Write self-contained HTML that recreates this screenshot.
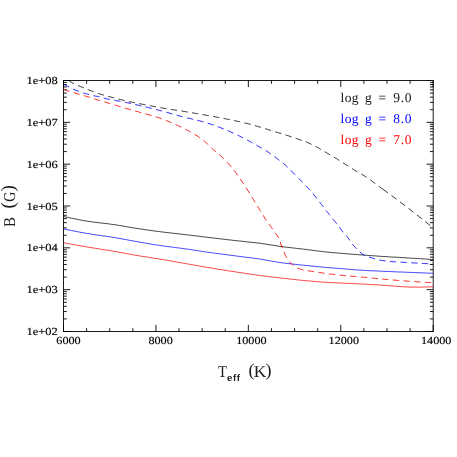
<!DOCTYPE html>
<html><head><meta charset="utf-8"><title>B vs Teff</title>
<style>html,body{margin:0;padding:0;background:#fff;}svg{display:block;will-change:transform;text-rendering:geometricPrecision}</style></head>
<body><svg width="457" height="457" viewBox="0 0 457 457">
<rect width="457" height="457" fill="#fff"/>
<rect x="63.5" y="80.5" width="369.7" height="251.0" fill="none" stroke="#111" stroke-width="0.95"/>
<path d="M63.50 331.5v-6.6M63.50 80.5v6.6M86.61 331.5v-3.3M86.61 80.5v3.3M109.71 331.5v-3.3M109.71 80.5v3.3M132.82 331.5v-3.3M132.82 80.5v3.3M155.93 331.5v-6.6M155.93 80.5v6.6M179.03 331.5v-3.3M179.03 80.5v3.3M202.14 331.5v-3.3M202.14 80.5v3.3M225.24 331.5v-3.3M225.24 80.5v3.3M248.35 331.5v-6.6M248.35 80.5v6.6M271.46 331.5v-3.3M271.46 80.5v3.3M294.56 331.5v-3.3M294.56 80.5v3.3M317.67 331.5v-3.3M317.67 80.5v3.3M340.77 331.5v-6.6M340.77 80.5v6.6M363.88 331.5v-3.3M363.88 80.5v3.3M386.99 331.5v-3.3M386.99 80.5v3.3M410.09 331.5v-3.3M410.09 80.5v3.3M433.20 331.5v-6.6M433.20 80.5v6.6M63.5 331.50h6.6M433.2 331.50h-6.6M63.5 318.91h3.3M433.2 318.91h-3.3M63.5 311.54h3.3M433.2 311.54h-3.3M63.5 306.31h3.3M433.2 306.31h-3.3M63.5 302.26h3.3M433.2 302.26h-3.3M63.5 298.95h3.3M433.2 298.95h-3.3M63.5 296.15h3.3M433.2 296.15h-3.3M63.5 293.72h3.3M433.2 293.72h-3.3M63.5 291.58h3.3M433.2 291.58h-3.3M63.5 289.67h6.6M433.2 289.67h-6.6M63.5 277.07h3.3M433.2 277.07h-3.3M63.5 269.71h3.3M433.2 269.71h-3.3M63.5 264.48h3.3M433.2 264.48h-3.3M63.5 260.43h3.3M433.2 260.43h-3.3M63.5 257.11h3.3M433.2 257.11h-3.3M63.5 254.31h3.3M433.2 254.31h-3.3M63.5 251.89h3.3M433.2 251.89h-3.3M63.5 249.75h3.3M433.2 249.75h-3.3M63.5 247.83h6.6M433.2 247.83h-6.6M63.5 235.24h3.3M433.2 235.24h-3.3M63.5 227.87h3.3M433.2 227.87h-3.3M63.5 222.65h3.3M433.2 222.65h-3.3M63.5 218.59h3.3M433.2 218.59h-3.3M63.5 215.28h3.3M433.2 215.28h-3.3M63.5 212.48h3.3M433.2 212.48h-3.3M63.5 210.05h3.3M433.2 210.05h-3.3M63.5 207.91h3.3M433.2 207.91h-3.3M63.5 206.00h6.6M433.2 206.00h-6.6M63.5 193.41h3.3M433.2 193.41h-3.3M63.5 186.04h3.3M433.2 186.04h-3.3M63.5 180.81h3.3M433.2 180.81h-3.3M63.5 176.76h3.3M433.2 176.76h-3.3M63.5 173.45h3.3M433.2 173.45h-3.3M63.5 170.65h3.3M433.2 170.65h-3.3M63.5 168.22h3.3M433.2 168.22h-3.3M63.5 166.08h3.3M433.2 166.08h-3.3M63.5 164.17h6.6M433.2 164.17h-6.6M63.5 151.57h3.3M433.2 151.57h-3.3M63.5 144.21h3.3M433.2 144.21h-3.3M63.5 138.98h3.3M433.2 138.98h-3.3M63.5 134.93h3.3M433.2 134.93h-3.3M63.5 131.61h3.3M433.2 131.61h-3.3M63.5 128.81h3.3M433.2 128.81h-3.3M63.5 126.39h3.3M433.2 126.39h-3.3M63.5 124.25h3.3M433.2 124.25h-3.3M63.5 122.33h6.6M433.2 122.33h-6.6M63.5 109.74h3.3M433.2 109.74h-3.3M63.5 102.37h3.3M433.2 102.37h-3.3M63.5 97.15h3.3M433.2 97.15h-3.3M63.5 93.09h3.3M433.2 93.09h-3.3M63.5 89.78h3.3M433.2 89.78h-3.3M63.5 86.98h3.3M433.2 86.98h-3.3M63.5 84.55h3.3M433.2 84.55h-3.3M63.5 82.41h3.3M433.2 82.41h-3.3M63.5 80.50h6.6M433.2 80.50h-6.6" stroke="#000" stroke-width="0.9" fill="none"/>
<path d="M63.5 216.4 L65.5 216.9 L67.5 217.3 L69.5 217.8 L71.5 218.2 L73.5 218.6 L75.5 219.0 L77.5 219.4 L79.5 219.8 L81.5 220.2 L83.5 220.6 L85.5 220.9 L87.5 221.2 L89.5 221.5 L91.5 221.8 L93.5 222.1 L95.5 222.3 L97.5 222.6 L99.5 222.8 L101.5 223.0 L103.5 223.3 L105.5 223.5 L107.5 223.7 L109.5 224.0 L111.5 224.3 L113.5 224.5 L115.5 224.8 L117.5 225.1 L119.5 225.5 L121.5 225.8 L123.5 226.1 L125.5 226.5 L127.5 226.9 L129.5 227.2 L131.5 227.6 L133.5 227.9 L135.5 228.2 L137.5 228.5 L139.5 228.8 L141.5 229.1 L143.5 229.4 L145.5 229.7 L147.5 230.0 L149.5 230.3 L151.5 230.6 L153.5 230.8 L155.5 231.1 L157.5 231.4 L159.5 231.6 L161.5 231.9 L163.5 232.1 L165.5 232.4 L167.5 232.6 L169.5 232.8 L171.5 233.1 L173.5 233.3 L175.5 233.5 L177.5 233.7 L179.5 234.0 L181.5 234.2 L183.5 234.4 L185.5 234.7 L187.5 234.9 L189.5 235.1 L191.5 235.4 L193.5 235.6 L195.5 235.9 L197.5 236.1 L199.5 236.3 L201.5 236.6 L203.5 236.8 L205.5 237.1 L207.5 237.3 L209.5 237.6 L211.5 237.8 L213.5 238.0 L215.5 238.3 L217.5 238.5 L219.5 238.7 L221.5 239.0 L223.5 239.2 L225.5 239.4 L227.5 239.7 L229.5 239.9 L231.5 240.1 L233.5 240.4 L235.5 240.6 L237.5 240.8 L239.5 241.0 L241.5 241.2 L243.5 241.4 L245.5 241.7 L247.5 241.9 L249.5 242.1 L251.5 242.3 L253.5 242.5 L255.5 242.7 L257.5 243.0 L259.5 243.2 L261.5 243.5 L263.5 243.8 L265.5 244.1 L267.5 244.4 L269.5 244.7 L271.5 245.0 L273.5 245.3 L275.5 245.7 L277.5 246.0 L279.5 246.3 L281.5 246.5 L283.5 246.8 L285.5 247.1 L287.5 247.3 L289.5 247.5 L291.5 247.8 L293.5 248.0 L295.5 248.2 L297.5 248.5 L299.5 248.7 L301.5 248.9 L303.5 249.2 L305.5 249.4 L307.5 249.7 L309.5 249.9 L311.5 250.2 L313.5 250.4 L315.5 250.7 L317.5 251.0 L319.5 251.2 L321.5 251.4 L323.5 251.7 L325.5 251.9 L327.5 252.1 L329.5 252.3 L331.5 252.5 L333.5 252.6 L335.5 252.8 L337.5 253.0 L339.5 253.2 L341.5 253.3 L343.5 253.5 L345.5 253.7 L347.5 253.8 L349.5 254.0 L351.5 254.2 L353.5 254.3 L355.5 254.5 L357.5 254.6 L359.5 254.8 L361.5 254.9 L363.5 255.1 L365.5 255.2 L367.5 255.4 L369.5 255.5 L371.5 255.7 L373.5 255.8 L375.5 255.9 L377.5 256.1 L379.5 256.2 L381.5 256.4 L383.5 256.5 L385.5 256.6 L387.5 256.7 L389.5 256.9 L391.5 257.0 L393.5 257.1 L395.5 257.2 L397.5 257.3 L399.5 257.4 L401.5 257.6 L403.5 257.7 L405.5 257.8 L407.5 257.9 L409.5 258.0 L411.5 258.2 L413.5 258.3 L415.5 258.4 L417.5 258.5 L419.5 258.7 L421.5 258.8 L423.5 258.9 L425.5 259.0 L427.5 259.2 L429.5 259.3 L431.5 259.4 L433.0 259.5" stroke="#000" stroke-width="0.75" fill="none" stroke-linejoin="round"/>
<path d="M63.5 228.9 L65.5 229.3 L67.5 229.7 L69.5 230.1 L71.5 230.6 L73.5 230.9 L75.5 231.3 L77.5 231.7 L79.5 232.1 L81.5 232.5 L83.5 232.8 L85.5 233.2 L87.5 233.5 L89.5 233.8 L91.5 234.2 L93.5 234.5 L95.5 234.8 L97.5 235.1 L99.5 235.3 L101.5 235.6 L103.5 235.9 L105.5 236.2 L107.5 236.5 L109.5 236.8 L111.5 237.1 L113.5 237.4 L115.5 237.7 L117.5 238.1 L119.5 238.4 L121.5 238.8 L123.5 239.2 L125.5 239.5 L127.5 239.9 L129.5 240.3 L131.5 240.7 L133.5 241.0 L135.5 241.4 L137.5 241.8 L139.5 242.1 L141.5 242.5 L143.5 242.8 L145.5 243.1 L147.5 243.5 L149.5 243.8 L151.5 244.2 L153.5 244.5 L155.5 244.8 L157.5 245.1 L159.5 245.4 L161.5 245.7 L163.5 246.0 L165.5 246.3 L167.5 246.5 L169.5 246.8 L171.5 247.0 L173.5 247.3 L175.5 247.6 L177.5 247.8 L179.5 248.1 L181.5 248.3 L183.5 248.6 L185.5 248.9 L187.5 249.2 L189.5 249.4 L191.5 249.7 L193.5 250.0 L195.5 250.4 L197.5 250.7 L199.5 251.0 L201.5 251.3 L203.5 251.6 L205.5 251.9 L207.5 252.2 L209.5 252.4 L211.5 252.7 L213.5 253.0 L215.5 253.3 L217.5 253.5 L219.5 253.8 L221.5 254.1 L223.5 254.3 L225.5 254.6 L227.5 254.8 L229.5 255.1 L231.5 255.4 L233.5 255.6 L235.5 255.9 L237.5 256.2 L239.5 256.4 L241.5 256.7 L243.5 256.9 L245.5 257.2 L247.5 257.4 L249.5 257.7 L251.5 257.9 L253.5 258.2 L255.5 258.5 L257.5 258.7 L259.5 259.0 L261.5 259.3 L263.5 259.7 L265.5 260.0 L267.5 260.4 L269.5 260.7 L271.5 261.1 L273.5 261.5 L275.5 261.8 L277.5 262.1 L279.5 262.5 L281.5 262.7 L283.5 263.0 L285.5 263.3 L287.5 263.5 L289.5 263.7 L291.5 263.9 L293.5 264.1 L295.5 264.4 L297.5 264.6 L299.5 264.8 L301.5 265.0 L303.5 265.2 L305.5 265.4 L307.5 265.6 L309.5 265.8 L311.5 266.0 L313.5 266.2 L315.5 266.4 L317.5 266.6 L319.5 266.8 L321.5 267.0 L323.5 267.2 L325.5 267.4 L327.5 267.6 L329.5 267.7 L331.5 267.9 L333.5 268.0 L335.5 268.2 L337.5 268.3 L339.5 268.5 L341.5 268.6 L343.5 268.8 L345.5 269.0 L347.5 269.1 L349.5 269.3 L351.5 269.5 L353.5 269.7 L355.5 269.8 L357.5 270.0 L359.5 270.1 L361.5 270.2 L363.5 270.3 L365.5 270.5 L367.5 270.6 L369.5 270.7 L371.5 270.8 L373.5 270.8 L375.5 270.9 L377.5 271.0 L379.5 271.1 L381.5 271.2 L383.5 271.3 L385.5 271.4 L387.5 271.5 L389.5 271.5 L391.5 271.6 L393.5 271.7 L395.5 271.8 L397.5 271.9 L399.5 272.0 L401.5 272.0 L403.5 272.1 L405.5 272.2 L407.5 272.3 L409.5 272.4 L411.5 272.4 L413.5 272.5 L415.5 272.6 L417.5 272.7 L419.5 272.8 L421.5 272.8 L423.5 272.9 L425.5 273.0 L427.5 273.1 L429.5 273.2 L431.5 273.2 L433.0 273.3" stroke="#0000ff" stroke-width="0.75" fill="none" stroke-linejoin="round"/>
<path d="M63.5 242.7 L65.5 243.1 L67.5 243.4 L69.5 243.8 L71.5 244.2 L73.5 244.6 L75.5 244.9 L77.5 245.3 L79.5 245.6 L81.5 246.0 L83.5 246.3 L85.5 246.7 L87.5 247.0 L89.5 247.4 L91.5 247.7 L93.5 248.0 L95.5 248.3 L97.5 248.6 L99.5 249.0 L101.5 249.3 L103.5 249.6 L105.5 249.9 L107.5 250.2 L109.5 250.5 L111.5 250.9 L113.5 251.2 L115.5 251.5 L117.5 251.9 L119.5 252.3 L121.5 252.6 L123.5 253.0 L125.5 253.4 L127.5 253.8 L129.5 254.1 L131.5 254.5 L133.5 254.9 L135.5 255.2 L137.5 255.6 L139.5 255.9 L141.5 256.2 L143.5 256.5 L145.5 256.8 L147.5 257.1 L149.5 257.4 L151.5 257.7 L153.5 258.1 L155.5 258.4 L157.5 258.7 L159.5 259.0 L161.5 259.4 L163.5 259.7 L165.5 260.0 L167.5 260.4 L169.5 260.7 L171.5 261.1 L173.5 261.5 L175.5 261.8 L177.5 262.2 L179.5 262.5 L181.5 262.9 L183.5 263.2 L185.5 263.6 L187.5 263.9 L189.5 264.3 L191.5 264.6 L193.5 265.0 L195.5 265.3 L197.5 265.7 L199.5 266.0 L201.5 266.4 L203.5 266.7 L205.5 267.1 L207.5 267.4 L209.5 267.7 L211.5 268.1 L213.5 268.4 L215.5 268.7 L217.5 269.1 L219.5 269.4 L221.5 269.7 L223.5 270.0 L225.5 270.3 L227.5 270.7 L229.5 271.0 L231.5 271.3 L233.5 271.6 L235.5 271.9 L237.5 272.2 L239.5 272.5 L241.5 272.8 L243.5 273.1 L245.5 273.4 L247.5 273.7 L249.5 274.0 L251.5 274.3 L253.5 274.6 L255.5 274.9 L257.5 275.2 L259.5 275.4 L261.5 275.7 L263.5 275.9 L265.5 276.2 L267.5 276.4 L269.5 276.7 L271.5 276.9 L273.5 277.1 L275.5 277.4 L277.5 277.6 L279.5 277.8 L281.5 278.1 L283.5 278.3 L285.5 278.5 L287.5 278.7 L289.5 279.0 L291.5 279.2 L293.5 279.4 L295.5 279.6 L297.5 279.9 L299.5 280.1 L301.5 280.3 L303.5 280.5 L305.5 280.7 L307.5 280.8 L309.5 281.0 L311.5 281.2 L313.5 281.4 L315.5 281.6 L317.5 281.7 L319.5 281.9 L321.5 282.0 L323.5 282.2 L325.5 282.3 L327.5 282.4 L329.5 282.5 L331.5 282.6 L333.5 282.7 L335.5 282.8 L337.5 282.9 L339.5 283.0 L341.5 283.1 L343.5 283.2 L345.5 283.3 L347.5 283.4 L349.5 283.4 L351.5 283.5 L353.5 283.6 L355.5 283.7 L357.5 283.8 L359.5 283.9 L361.5 284.0 L363.5 284.1 L365.5 284.2 L367.5 284.3 L369.5 284.5 L371.5 284.6 L373.5 284.7 L375.5 284.8 L377.5 284.9 L379.5 285.0 L381.5 285.2 L383.5 285.3 L385.5 285.4 L387.5 285.6 L389.5 285.7 L391.5 285.9 L393.5 286.0 L395.5 286.2 L397.5 286.4 L399.5 286.5 L401.5 286.6 L403.5 286.8 L405.5 286.9 L407.5 287.0 L409.5 287.1 L411.5 287.1 L413.5 287.1 L415.5 287.1 L417.5 287.1 L419.5 287.1 L421.5 287.1 L423.5 287.0 L425.5 287.0 L427.5 286.9 L429.5 286.9 L431.5 286.8 L433.0 286.7" stroke="#ff0000" stroke-width="0.75" fill="none" stroke-linejoin="round"/>
<path d="M68.6 80.4 L69.6 81.1 L70.6 81.8 L71.6 82.4 L72.6 83.0 L73.6 83.5 L74.6 84.1 L75.6 84.5 L76.6 85.0 L77.6 85.4 L78.6 85.8 L79.6 86.2 L80.6 86.6 L81.6 87.0 L82.6 87.3 L83.6 87.7 L84.6 88.2 L85.6 88.6 L86.6 89.1 L87.6 89.5 L88.6 89.9 L89.6 90.3 L90.6 90.7 L91.6 91.0 L92.6 91.4 L93.6 91.8 L94.6 92.2 L95.6 92.6 L96.6 92.9 L97.6 93.3 L98.6 93.6 L99.6 93.9 L100.6 94.2 L101.6 94.5 L102.6 94.8 L103.6 95.0 L104.6 95.3 L105.6 95.6 L106.6 95.9 L107.6 96.2 L108.6 96.4 L109.6 96.7 L110.6 97.0 L111.6 97.3 L112.6 97.5 L113.6 97.8 L114.6 98.1 L115.6 98.3 L116.6 98.6 L117.6 98.9 L118.6 99.1 L119.6 99.4 L120.6 99.6 L121.6 99.9 L122.6 100.1 L123.6 100.3 L124.6 100.6 L125.6 100.8 L126.6 101.0 L127.6 101.2 L128.6 101.5 L129.6 101.7 L130.6 101.9 L131.6 102.1 L132.6 102.3 L133.6 102.5 L134.6 102.7 L135.6 102.9 L136.6 103.1 L137.6 103.3 L138.6 103.5 L139.6 103.7 L140.6 103.9 L141.6 104.1 L142.6 104.3 L143.6 104.4 L144.6 104.6 L145.6 104.8 L146.6 105.0 L147.6 105.2 L148.6 105.4 L149.6 105.6 L150.6 105.8 L151.6 106.0 L152.6 106.2 L153.6 106.4 L154.6 106.6 L155.6 106.8 L156.6 107.0 L157.6 107.2 L158.6 107.3 L159.6 107.5 L160.6 107.7 L161.6 107.9 L162.6 108.0 L163.6 108.2 L164.6 108.4 L165.6 108.5 L166.6 108.7 L167.6 108.9 L168.6 109.0 L169.6 109.2 L170.6 109.3 L171.6 109.5 L172.6 109.6 L173.6 109.8 L174.6 109.9 L175.6 110.1 L176.6 110.3 L177.6 110.4 L178.6 110.6 L179.6 110.7 L180.6 110.9 L181.6 111.1 L182.6 111.2 L183.6 111.4 L184.6 111.5 L185.6 111.7 L186.6 111.9 L187.6 112.0 L188.6 112.2 L189.6 112.4 L190.6 112.5 L191.6 112.7 L192.6 112.9 L193.6 113.0 L194.6 113.2 L195.6 113.4 L196.6 113.6 L197.6 113.7 L198.6 113.9 L199.6 114.1 L200.6 114.2 L201.6 114.4 L202.6 114.6 L203.6 114.8 L204.6 114.9 L205.6 115.1 L206.6 115.3 L207.6 115.5 L208.6 115.6 L209.6 115.8 L210.6 116.0 L211.6 116.2 L212.6 116.4 L213.6 116.5 L214.6 116.7 L215.6 116.9 L216.6 117.1 L217.6 117.3 L218.6 117.5 L219.6 117.6 L220.6 117.8 L221.6 118.0 L222.6 118.2 L223.6 118.4 L224.6 118.6 L225.6 118.8 L226.6 119.0 L227.6 119.2 L228.6 119.4 L229.6 119.6 L230.6 119.8 L231.6 120.0 L232.6 120.2 L233.6 120.4 L234.6 120.6 L235.6 120.9 L236.6 121.1 L237.6 121.3 L238.6 121.5 L239.6 121.7 L240.6 122.0 L241.6 122.2 L242.6 122.4 L243.6 122.7 L244.6 122.9 L245.6 123.1 L246.6 123.4 L247.6 123.6 L248.6 123.9 L249.6 124.1 L250.6 124.4 L251.6 124.7 L252.6 125.0 L253.6 125.2 L254.6 125.5 L255.6 125.8 L256.6 126.1 L257.6 126.4 L258.6 126.7 L259.6 127.0 L260.6 127.3 L261.6 127.6 L262.6 127.9 L263.6 128.2 L264.6 128.5 L265.6 128.8 L266.6 129.1 L267.6 129.4 L268.6 129.7 L269.6 130.0 L270.6 130.4 L271.6 130.7 L272.6 131.0 L273.6 131.3 L274.6 131.6 L275.6 131.9 L276.6 132.2 L277.6 132.5 L278.6 132.8 L279.6 133.1 L280.6 133.4 L281.6 133.7 L282.6 134.0 L283.6 134.3 L284.6 134.6 L285.6 135.0 L286.6 135.3 L287.6 135.6 L288.6 135.9 L289.6 136.2 L290.6 136.6 L291.6 136.9 L292.6 137.2 L293.6 137.6 L294.6 137.9 L295.6 138.2 L296.6 138.6 L297.6 138.9 L298.6 139.3 L299.6 139.6 L300.6 140.0 L301.6 140.3 L302.6 140.6 L303.6 141.0 L304.6 141.4 L305.6 141.7 L306.6 142.1 L307.6 142.5 L308.6 143.0 L309.6 143.4 L310.6 143.9 L311.6 144.4 L312.6 144.9 L313.6 145.4 L314.6 145.9 L315.6 146.5 L316.6 147.0 L317.6 147.5 L318.6 148.1 L319.6 148.7 L320.6 149.3 L321.6 149.9 L322.6 150.5 L323.6 151.1 L324.6 151.6 L325.6 152.2 L326.6 152.8 L327.6 153.4 L328.6 154.0 L329.6 154.5 L330.6 155.1 L331.6 155.7 L332.6 156.3 L333.6 156.9 L334.6 157.5 L335.6 158.1 L336.6 158.7 L337.6 159.3 L338.6 160.0 L339.6 160.6 L340.6 161.2 L341.6 161.9 L342.6 162.5 L343.6 163.2 L344.6 163.8 L345.6 164.5 L346.6 165.1 L347.6 165.7 L348.6 166.4 L349.6 167.0 L350.6 167.7 L351.6 168.3 L352.6 168.9 L353.6 169.6 L354.6 170.2 L355.6 170.8 L356.6 171.4 L357.6 172.0 L358.6 172.6 L359.6 173.1 L360.6 173.7 L361.6 174.3 L362.6 174.9 L363.6 175.4 L364.6 176.0 L365.6 176.6 L366.6 177.3 L367.6 177.9 L368.6 178.6 L369.6 179.3 L370.6 180.1 L371.6 180.8 L372.6 181.6 L373.6 182.4 L374.6 183.2 L375.6 183.9 L376.6 184.7 L377.6 185.4 L378.6 186.1 L379.6 186.8 L380.6 187.6 L381.6 188.3 L382.6 189.0 L382.8 189.2" stroke="#000" stroke-width="0.85" fill="none" stroke-linejoin="round" stroke-dasharray="6.3 4.4" stroke-dashoffset="0"/>
<path d="M382.8 189.2 L383.8 189.9 L384.8 190.6 L385.8 191.3 L386.8 192.1 L387.8 192.8 L388.8 193.5 L389.8 194.3 L390.8 195.0 L391.8 195.8 L392.8 196.5 L393.8 197.2 L394.8 197.9 L395.8 198.7 L396.8 199.4 L397.8 200.2 L398.8 201.0 L399.8 201.7 L400.8 202.5 L401.8 203.2 L402.8 204.0 L403.8 204.7 L404.8 205.5 L405.8 206.3 L406.8 207.0 L407.8 207.8 L408.8 208.6 L409.8 209.4 L410.8 210.2 L411.8 211.0 L412.8 211.8 L413.8 212.6 L414.8 213.4 L415.8 214.2 L416.8 214.9 L417.8 215.7 L418.8 216.4 L419.8 217.2 L420.8 217.9 L421.8 218.7 L422.8 219.5 L423.8 220.3 L424.8 221.1 L425.8 222.0 L426.8 222.8 L427.8 223.6 L428.8 224.4 L429.8 225.2 L430.8 226.0 L431.8 226.8 L432.8 227.6 L433.0 227.8" stroke="#000" stroke-width="0.85" fill="none" stroke-linejoin="round" stroke-dasharray="6.3 4.4" stroke-dashoffset="0"/>
<path d="M63.5 84.2 L65.5 85.3 L67.5 86.3 L69.5 87.3 L71.5 88.3 L73.5 89.3 L75.5 90.1 L77.5 90.9 L79.5 91.6 L81.5 92.3 L83.5 93.0 L85.5 93.6 L87.5 94.1 L89.5 94.6 L91.5 95.2 L93.5 95.7 L95.5 96.1 L97.5 96.4 L99.5 96.9 L101.5 97.5 L103.5 98.1 L105.5 98.6 L107.5 99.0 L109.5 99.4 L111.5 99.8 L113.5 100.2 L115.5 100.5 L117.5 100.9 L119.5 101.2 L121.5 101.6 L123.5 102.0 L125.5 102.4 L127.5 102.8 L129.5 103.2 L131.5 103.7 L133.5 104.1 L135.5 104.6 L137.5 105.0 L139.5 105.5 L141.5 106.0 L143.5 106.4 L145.5 106.9 L147.5 107.4 L149.5 107.9 L151.5 108.4 L153.5 108.9 L155.5 109.4 L157.5 109.9 L159.5 110.4 L161.5 110.9 L163.5 111.4 L165.5 112.0 L167.5 112.6 L169.5 113.1 L171.5 113.7 L173.5 114.3 L175.5 114.8 L177.5 115.4 L179.5 116.0 L181.5 116.5 L183.5 117.0 L185.5 117.5 L187.5 118.0 L189.5 118.4 L191.5 118.9 L193.5 119.4 L195.5 119.8 L197.5 120.3 L199.5 120.8 L201.5 121.4 L203.5 121.9 L205.5 122.5 L207.5 123.1 L209.5 123.8 L211.5 124.4 L213.5 125.1 L215.5 125.8 L217.5 126.5 L219.5 127.3 L221.5 128.1 L223.5 128.9 L225.5 129.7 L227.5 130.5 L229.5 131.4 L231.5 132.3 L233.5 133.2 L235.5 134.1 L237.5 135.1 L239.5 136.1 L241.5 137.1 L243.5 138.1 L245.5 139.2 L247.5 140.2 L249.5 141.3 L251.5 142.4 L253.5 143.5 L255.5 144.6 L257.5 145.8 L259.5 146.9 L261.5 148.0 L263.5 149.1 L265.5 150.3 L267.5 151.6 L269.5 153.0 L271.5 154.4 L273.5 155.9 L275.5 157.4 L277.5 158.9 L279.5 160.5 L281.5 162.0 L283.5 163.6 L285.5 165.3 L287.5 167.1 L289.5 169.0 L291.5 171.0 L293.5 173.1 L295.5 175.1 L297.5 177.2 L299.5 179.2 L301.5 181.3 L303.5 183.3 L305.5 185.4 L307.5 187.5 L309.5 189.7 L311.5 192.0 L313.5 194.4 L315.5 196.9 L317.5 199.4 L319.5 202.0 L321.5 204.5 L323.5 207.0 L325.5 209.9 L327.5 212.3 L329.5 214.6 L331.5 217.3 L333.5 219.8 L335.5 222.2 L337.5 224.7 L339.5 227.4 L341.5 230.2 L343.5 232.7 L345.5 234.8 L347.5 237.2 L349.5 239.8 L351.5 242.8 L353.5 245.5 L355.5 247.6 L357.5 249.8 L359.5 251.8 L361.5 253.4 L363.5 254.7 L365.5 255.7 L367.5 256.5 L369.5 257.2 L371.5 257.8 L373.5 258.4 L375.5 258.9 L377.5 259.5 L379.5 260.0 L381.5 260.4 L383.5 260.7 L385.5 260.9 L387.5 261.2 L389.5 261.4 L391.5 261.6 L393.5 261.7 L395.5 261.9 L397.5 262.0 L399.5 262.1 L401.5 262.2 L403.5 262.3 L405.5 262.4 L407.5 262.5 L409.5 262.6 L411.5 262.8 L413.5 262.9 L415.5 263.0 L417.5 263.1 L419.5 263.2 L421.5 263.4 L423.5 263.5 L425.5 263.6 L427.5 263.7 L429.5 263.9 L431.5 264.0 L433.0 264.1" stroke="#0000ff" stroke-width="0.85" fill="none" stroke-linejoin="round" stroke-dasharray="6.3 4.4" stroke-dashoffset="0"/>
<path d="M63.5 89.2 L65.5 90.1 L67.5 90.8 L69.5 91.5 L71.5 92.0 L73.5 92.4 L75.5 93.1 L77.5 93.8 L79.5 94.4 L81.5 95.0 L83.5 95.5 L85.5 96.1 L87.5 96.7 L89.5 97.3 L91.5 98.0 L93.5 98.7 L95.5 99.3 L97.5 99.9 L99.5 100.5 L101.5 101.1 L103.5 101.6 L105.5 102.2 L107.5 102.8 L109.5 103.4 L111.5 104.0 L113.5 104.6 L115.5 105.2 L117.5 105.8 L119.5 106.5 L121.5 107.1 L123.5 107.7 L125.5 108.3 L127.5 108.8 L129.5 109.4 L131.5 110.0 L133.5 110.5 L135.5 111.1 L137.5 111.6 L139.5 112.2 L141.5 112.7 L143.5 113.3 L145.5 113.8 L147.5 114.4 L149.5 115.0 L151.5 115.6 L153.5 116.1 L155.5 116.7 L157.5 117.4 L159.5 118.0 L161.5 118.7 L163.5 119.5 L165.5 120.2 L167.5 121.0 L169.5 121.8 L171.5 122.7 L173.5 123.6 L175.5 124.5 L177.5 125.4 L179.5 126.3 L181.5 127.3 L183.5 128.3 L185.5 129.3 L187.5 130.4 L189.5 131.4 L191.5 132.5 L193.5 133.7 L195.5 134.9 L197.5 136.1 L199.5 137.5 L201.5 138.9 L203.5 140.4 L205.5 142.1 L207.5 144.1 L209.5 146.1 L211.5 148.1 L213.5 149.8 L215.5 151.4 L217.5 153.1 L219.5 154.8 L221.5 156.6 L223.5 158.5 L225.5 160.6 L227.5 162.7 L229.5 164.9 L231.5 167.2 L233.5 169.6 L235.5 172.3 L237.5 175.0 L239.5 177.9 L241.5 180.8 L243.5 183.8 L245.5 186.8 L247.5 190.0 L249.5 193.2 L251.5 196.4 L253.5 199.7 L255.5 202.9 L257.5 206.2 L259.5 209.5 L261.5 212.8 L263.5 216.0 L265.5 219.1 L267.5 222.0 L269.5 224.7 L271.5 227.5 L273.5 230.5 L275.5 233.4 L277.5 236.0 L279.5 239.4 L281.5 245.9 L283.5 251.0 L285.5 255.4 L287.5 258.9 L289.5 261.7 L291.5 263.9 L293.5 265.5 L295.5 267.0 L297.5 268.1 L299.5 268.9 L301.5 269.5 L303.5 270.0 L305.5 270.4 L307.5 270.7 L309.5 271.0 L311.5 271.3 L313.5 271.6 L315.5 271.9 L317.5 272.2 L319.5 272.5 L321.5 272.8 L323.5 273.1 L325.5 273.4 L327.5 273.7 L329.5 274.0 L331.5 274.2 L333.5 274.4 L335.5 274.7 L337.5 274.9 L339.5 275.1 L341.5 275.3 L343.5 275.5 L345.5 275.7 L347.5 275.8 L349.5 276.0 L351.5 276.2 L353.5 276.3 L355.5 276.5 L357.5 276.7 L359.5 276.9 L361.5 277.0 L363.5 277.2 L365.5 277.4 L367.5 277.6 L369.5 277.8 L371.5 278.0 L373.5 278.2 L375.5 278.4 L377.5 278.6 L379.5 278.8 L381.5 279.0 L383.5 279.2 L385.5 279.4 L387.5 279.5 L389.5 279.7 L391.5 279.9 L393.5 280.0 L395.5 280.2 L397.5 280.4 L399.5 280.5 L401.5 280.7 L403.5 280.8 L405.5 281.0 L407.5 281.1 L409.5 281.3 L411.5 281.4 L413.5 281.5 L415.5 281.7 L417.5 281.8 L419.5 281.9 L421.5 282.1 L423.5 282.2 L425.5 282.3 L427.5 282.4 L429.5 282.5 L431.5 282.6 L433.0 282.7" stroke="#ff0000" stroke-width="0.85" fill="none" stroke-linejoin="round" stroke-dasharray="6.3 4.4" stroke-dashoffset="0"/>
<g font-family="Liberation Serif, serif" font-size="10.8" fill="#000" stroke="#000" stroke-width="0.15"><text x="26.4" y="335.0" textLength="31.4" lengthAdjust="spacingAndGlyphs">1e+02</text><text x="26.4" y="293.2" textLength="31.4" lengthAdjust="spacingAndGlyphs">1e+03</text><text x="26.4" y="251.3" textLength="31.4" lengthAdjust="spacingAndGlyphs">1e+04</text><text x="26.4" y="209.5" textLength="31.4" lengthAdjust="spacingAndGlyphs">1e+05</text><text x="26.4" y="167.7" textLength="31.4" lengthAdjust="spacingAndGlyphs">1e+06</text><text x="26.4" y="125.8" textLength="31.4" lengthAdjust="spacingAndGlyphs">1e+07</text><text x="26.4" y="84.0" textLength="31.4" lengthAdjust="spacingAndGlyphs">1e+08</text><text x="56.3" y="343.8" textLength="24.4" lengthAdjust="spacingAndGlyphs">6000</text><text x="148.4" y="343.8" textLength="24.4" lengthAdjust="spacingAndGlyphs">8000</text><text x="236.2" y="343.8" textLength="30.4" lengthAdjust="spacingAndGlyphs">10000</text><text x="328.6" y="343.8" textLength="30.4" lengthAdjust="spacingAndGlyphs">12000</text><text x="421.0" y="343.8" textLength="30.4" lengthAdjust="spacingAndGlyphs">14000</text></g>
<g font-family="Liberation Serif, serif" font-size="13.5"><g fill="#111"><text x="340.6" y="101.7" textLength="17.9" lengthAdjust="spacing">log</text><text x="365" y="101.7">g</text><text x="378.4" y="101.7">=</text><text x="393.2" y="101.7" textLength="18.4" lengthAdjust="spacing">9.0</text></g><g fill="#0000ff"><text x="340.6" y="122.8" textLength="17.9" lengthAdjust="spacing">log</text><text x="365" y="122.8">g</text><text x="378.4" y="122.8">=</text><text x="393.2" y="122.8" textLength="18.4" lengthAdjust="spacing">8.0</text></g><g fill="#ff0000"><text x="340.6" y="143.7" textLength="17.9" lengthAdjust="spacing">log</text><text x="365" y="143.7">g</text><text x="378.4" y="143.7">=</text><text x="393.2" y="143.7" textLength="18.4" lengthAdjust="spacing">7.0</text></g></g>
<g font-family="Liberation Serif, serif" font-size="16.5" fill="#1a1a1a"><text x="217.9" y="376.5" textLength="9" lengthAdjust="spacingAndGlyphs">T</text><text x="253.8" y="376.5" textLength="12.6" lengthAdjust="spacingAndGlyphs">K</text><text x="248.4" y="375.6" font-size="18">(</text><text x="265.4" y="375.6" font-size="18">)</text><g transform="translate(14.8,227) rotate(-90)"><text x="0" y="0" textLength="10" lengthAdjust="spacingAndGlyphs">B</text><text x="25.2" y="0" textLength="10" lengthAdjust="spacingAndGlyphs">G</text><text x="18.6" y="-0.5" font-size="19">(</text><text x="35.4" y="-0.5" font-size="19">)</text></g></g>
<text x="227" y="381.4" font-family="Liberation Sans, sans-serif" font-size="9.5" font-weight="bold" fill="#1a1a1a" textLength="13" lengthAdjust="spacing">eff</text>
</svg></body></html>
